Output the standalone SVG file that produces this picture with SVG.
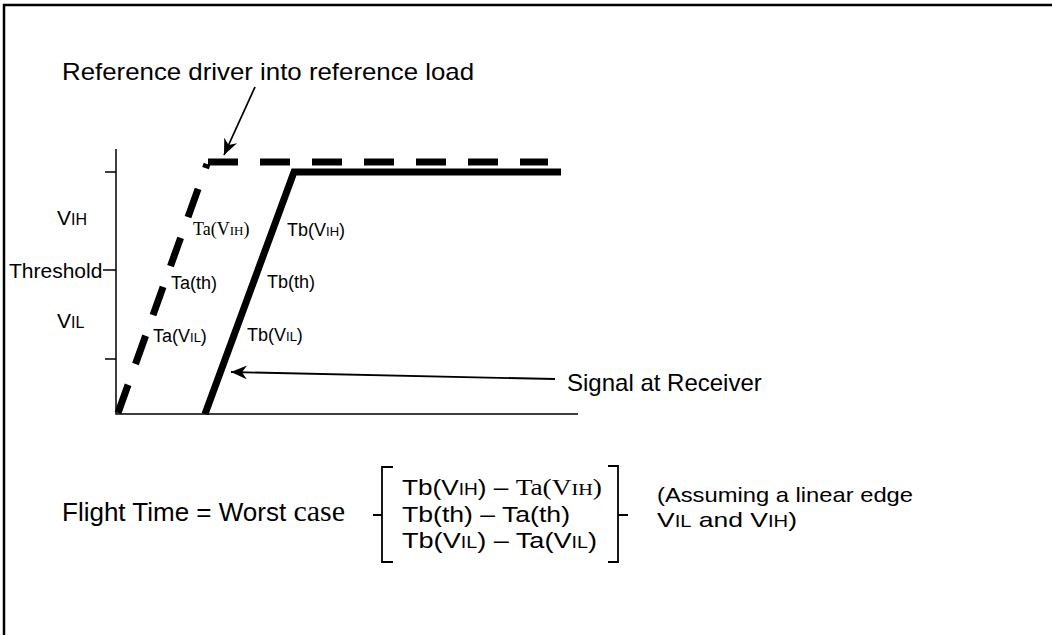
<svg xmlns="http://www.w3.org/2000/svg" width="1052" height="635" viewBox="0 0 1052 635">
<defs>
<style>
.a{font-family:"Liberation Sans",Arial,sans-serif;fill:#000}
.t{font-family:"Liberation Serif","Times New Roman",serif;fill:#000}
.ln{stroke:#000;fill:none}
</style>
<marker id="ah" markerUnits="userSpaceOnUse" markerWidth="18" markerHeight="14" refX="16" refY="7" orient="auto">
<path d="M0,0 L16,7 L0,14 L5,7 z" fill="#000"/>
</marker>
</defs>
<rect width="1052" height="635" fill="#fff"/>
<g id="frame">
<path class="ln" d="M4,635 V5 H1052" stroke-width="2.5"/>
</g>
<g id="axes">
<path class="ln" d="M116,149 V414 H578" stroke-width="1.5"/>
<path class="ln" d="M105,172 H116 M103,270 H116 M105,359 H116" stroke-width="1.5"/>
</g>
<g id="reference-driver">
<path class="ln" d="M118,413 L207,164" stroke-width="7" stroke-dasharray="30 22"/>
<path class="ln" d="M208,162 H548" stroke-width="7" stroke-dasharray="30 22"/>
</g>
<g id="receiver-signal">
<path class="ln" d="M205,414 L294,172 H561" stroke-width="7" stroke-linejoin="miter"/>
</g>
<g id="connectors">
<path class="ln" d="M255,87 L224,155" stroke-width="1.8" marker-end="url(#ah)"/>
<path class="ln" d="M555,379 L231,372" stroke-width="1.8" marker-end="url(#ah)"/>
</g>
<g id="labels">
<text class="a" x="62" y="80" font-size="24" textLength="412" lengthAdjust="spacingAndGlyphs">Reference driver into reference load</text>
<text class="a" x="567" y="391" font-size="24">Signal at Receiver</text>
<text class="a" x="57" y="225" font-size="21">V<tspan font-size="16">IH</tspan></text>
<text class="a" x="9" y="278" font-size="21">Threshold</text>
<text class="a" x="57" y="328" font-size="21">V<tspan font-size="16">IL</tspan></text>
<text class="t" x="193" y="235" font-size="18">Ta(V<tspan font-size="13">IH</tspan>)</text>
<text class="a" x="171" y="289" font-size="18">Ta(th)</text>
<text class="a" x="153" y="342" font-size="18">Ta(V<tspan font-size="13">IL</tspan>)</text>
<text class="a" x="287" y="236" font-size="18">Tb(V<tspan font-size="13">IH</tspan>)</text>
<text class="a" x="267" y="288" font-size="18">Tb(th)</text>
<text class="a" x="247" y="341" font-size="18">Tb(V<tspan font-size="13">IL</tspan>)</text>
</g>
<g id="formula">
<text class="a" x="62" y="521" font-size="26">Flight Time = Worst <tspan class="t" font-size="30">case</tspan></text>
<path class="ln" d="M393,467 H382 V562 H393 M373,515 H382" stroke-width="1.8"/>
<path class="ln" d="M608,466 H618 V562 H608 M618,515 H628" stroke-width="1.8"/>
<text class="a" x="402" y="495" font-size="22" textLength="200" lengthAdjust="spacingAndGlyphs">Tb(V<tspan font-size="16">IH</tspan>) – <tspan class="t" font-size="23">Ta(V<tspan font-size="17">IH</tspan>)</tspan></text>
<text class="a" x="402" y="522" font-size="22" textLength="168" lengthAdjust="spacingAndGlyphs">Tb(th) – Ta(th)</text>
<text class="a" x="402" y="548" font-size="22" textLength="195" lengthAdjust="spacingAndGlyphs">Tb(V<tspan font-size="16">IL</tspan>) – Ta(V<tspan font-size="16">IL</tspan>)</text>
<text class="a" x="657" y="502" font-size="21" textLength="256" lengthAdjust="spacingAndGlyphs">(Assuming a linear edge</text>
<text class="a" x="657" y="527" font-size="21" textLength="140" lengthAdjust="spacingAndGlyphs">V<tspan font-size="16">IL</tspan> and V<tspan font-size="16">IH</tspan>)</text>
</g>
</svg>
